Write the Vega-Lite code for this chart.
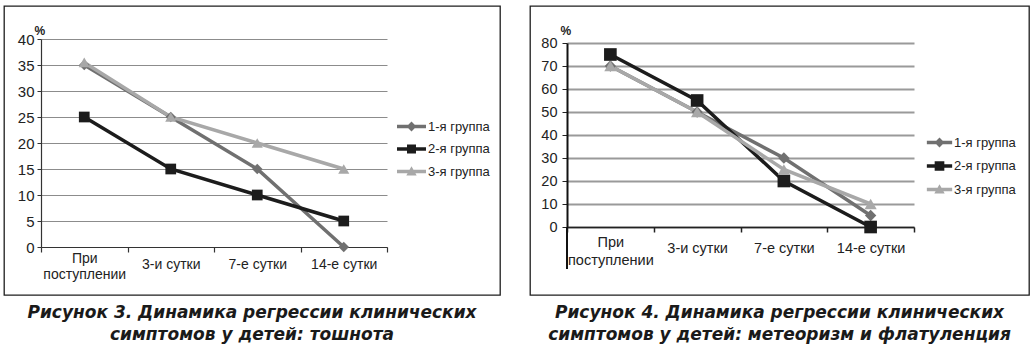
{
  "$schema": "https://vega.github.io/schema/vega-lite/v6.json",
  "background": "white",
  "padding": {"left": 3, "top": 5, "right": 0, "bottom": 0},
  "autosize": {"type": "pad"},
  "bounds": "flush",
  "spacing": 30,
  "datasets": {
    "fig3": [
      {"period": "При поступлении", "group": "1-я группа", "value": 35},
      {"period": "3-и сутки", "group": "1-я группа", "value": 25},
      {"period": "7-е сутки", "group": "1-я группа", "value": 15},
      {"period": "14-е сутки", "group": "1-я группа", "value": 0},
      {"period": "При поступлении", "group": "2-я группа", "value": 25},
      {"period": "3-и сутки", "group": "2-я группа", "value": 15},
      {"period": "7-е сутки", "group": "2-я группа", "value": 10},
      {"period": "14-е сутки", "group": "2-я группа", "value": 5},
      {"period": "При поступлении", "group": "3-я группа", "value": 35.5},
      {"period": "3-и сутки", "group": "3-я группа", "value": 25},
      {"period": "7-е сутки", "group": "3-я группа", "value": 20},
      {"period": "14-е сутки", "group": "3-я группа", "value": 15}
    ],
    "fig4": [
      {"period": "При поступлении", "group": "1-я группа", "value": 70},
      {"period": "3-и сутки", "group": "1-я группа", "value": 50},
      {"period": "7-е сутки", "group": "1-я группа", "value": 30},
      {"period": "14-е сутки", "group": "1-я группа", "value": 5},
      {"period": "При поступлении", "group": "2-я группа", "value": 75},
      {"period": "3-и сутки", "group": "2-я группа", "value": 55},
      {"period": "7-е сутки", "group": "2-я группа", "value": 20},
      {"period": "14-е сутки", "group": "2-я группа", "value": 0},
      {"period": "При поступлении", "group": "3-я группа", "value": 70},
      {"period": "3-и сутки", "group": "3-я группа", "value": 50},
      {"period": "7-е сутки", "group": "3-я группа", "value": 25},
      {"period": "14-е сутки", "group": "3-я группа", "value": 10}
    ]
  },
  "config": {
    "view": {"stroke": "#1e1e1e", "strokeWidth": 1.3},
    "font": "Liberation Sans",
    "axis": {"labelFont": "Liberation Sans", "titleFont": "Liberation Sans", "labelColor": "#222222", "titleColor": "#222222"},
    "legend": {"labelFont": "Liberation Sans"}
  },
  "resolve": {
    "scale": {"color": "independent"},
    "legend": {"color": "independent"}
  },
  "hconcat": [
    {
      "width": 496,
      "height": 289,
      "data": {"name": "fig3"},
      "title": {
        "text": ["Рисунок 3. Динамика регрессии клинических", "симптомов у детей: тошнота"],
        "orient": "bottom", "anchor": "middle", "frame": "group",
        "font": "DejaVu Sans", "fontSize": 17, "fontWeight": "bold", "fontStyle": "italic",
        "lineHeight": 22, "offset": 10, "baseline": "top", "color": "#1a1a1a"
      },
      "encoding": {
        "x": {
          "field": "period", "type": "nominal",
          "sort": ["При поступлении", "3-и сутки", "7-е сутки", "14-е сутки"],
          "scale": {"type": "band", "range": [37, 383], "paddingInner": 0, "paddingOuter": 0},
          "axis": {
            "orient": "bottom", "offset": -48, "tickBand": "extent", "grid": false,
            "domainColor": "#333333", "domainWidth": 1.2, "tickColor": "#333333", "tickSize": 5, "tickWidth": 1.2,
            "labelAngle": 0, "labelFontSize": 14, "labelBaseline": "middle",
            "labelPadding": {"condition": {"test": "datum.value === 'При поступлении'", "value": 6}, "value": 12},
            "labelLineHeight": 16, "labelOverlap": false, "labelFlush": false,
            "labelExpr": "datum.value === 'При поступлении' ? ['При', 'поступлении'] : datum.value",
            "title": null
          }
        },
        "y": {
          "field": "value", "type": "quantitative",
          "scale": {"domain": [0, 40], "range": [241, 33], "nice": false, "zero": true},
          "axis": {
            "orient": "left", "offset": -37, "values": [0, 5, 10, 15, 20, 25, 30, 35, 40],
            "grid": true, "gridColor": "#8c8c8c", "gridWidth": 1,
            "domainColor": "#333333", "domainWidth": 1.2, "tickColor": "#333333", "tickSize": 4,
            "labelPadding": 3, "labelFontSize": 15,
            "title": "%", "titleAngle": 0, "titleAlign": "left", "titleBaseline": "alphabetic",
            "titleX": -7, "titleY": 28, "titleFontSize": 12, "titleFontWeight": "bold"
          }
        },
        "color": {
          "field": "group", "type": "nominal",
          "scale": {"domain": ["1-я группа", "2-я группа", "3-я группа"], "range": ["#707070", "#1c1c1c", "#a8a8a8"]},
          "legend": {
            "orient": "none", "legendX": 396, "legendY": 109, "title": null,
            "symbolSize": 529, "labelFontSize": 13, "labelOffset": 5, "rowPadding": 3.5, "padding": 0,
            "labelColor": "#222222", "symbolType": "square",
            "encode": {"symbols": {"update": {
              "shape": {"signal": "datum.value === '1-я группа' ? 'M-1.26,-0.15L1.26,-0.15L1.26,0.15L-1.26,0.15Z M0,-0.43L0.43,0L0,0.43L-0.43,0Z' : datum.value === '2-я группа' ? 'M-1.26,-0.15L1.26,-0.15L1.26,0.15L-1.26,0.15Z M-0.39,-0.39L0.39,-0.39L0.39,0.39L-0.39,0.39Z' : 'M-1.26,-0.15L1.26,-0.15L1.26,0.15L-1.26,0.15Z M0,-0.45L0.45,0.35L-0.45,0.35Z'"},
              "fill": {"signal": "datum.value === '1-я группа' ? '#707070' : datum.value === '2-я группа' ? '#1c1c1c' : '#a8a8a8'"},
              "stroke": {"value": "transparent"},
              "strokeWidth": {"value": 0},
              "opacity": {"value": 1}
            }}}
          }
        }
      },
      "layer": [
        {"mark": {"type": "line", "strokeWidth": 3.5}},
        {"transform": [{"filter": "datum.group === '1-я группа'"}], "mark": {"type": "point", "filled": true, "opacity": 1, "size": 110, "shape": "diamond"}},
        {"transform": [{"filter": "datum.group === '2-я группа'"}], "mark": {"type": "point", "filled": true, "opacity": 1, "size": 115, "shape": "square"}},
        {"transform": [{"filter": "datum.group === '3-я группа'"}], "mark": {"type": "point", "filled": true, "opacity": 1, "size": 125, "shape": "triangle-up"}}
      ]
    },
    {
      "width": 499,
      "height": 289,
      "data": {"name": "fig4"},
      "title": {
        "text": ["Рисунок 4. Динамика регрессии клинических", "симптомов у детей: метеоризм и флатуленция"],
        "orient": "bottom", "anchor": "middle", "frame": "group",
        "font": "DejaVu Sans", "fontSize": 17, "fontWeight": "bold", "fontStyle": "italic",
        "lineHeight": 22, "offset": 10, "baseline": "top", "color": "#1a1a1a"
      },
      "encoding": {
        "x": {
          "field": "period", "type": "nominal",
          "sort": ["При поступлении", "3-и сутки", "7-е сутки", "14-е сутки"],
          "scale": {"type": "band", "range": [37, 384], "paddingInner": 0, "paddingOuter": 0},
          "axis": {
            "orient": "bottom", "offset": -68, "tickBand": "extent", "grid": false,
            "domainColor": "#222222", "domainWidth": 1.5, "tickColor": "#222222", "tickSize": 5, "tickWidth": 1.5,
            "labelAngle": 0, "labelFontSize": 14.5, "labelBaseline": "middle",
            "labelPadding": {"condition": {"test": "datum.value === 'При поступлении'", "value": 10}, "value": 16},
            "labelLineHeight": 18, "labelOverlap": false, "labelFlush": false,
            "labelExpr": "datum.value === 'При поступлении' ? ['При', 'поступлении'] : datum.value",
            "title": null
          }
        },
        "y": {
          "field": "value", "type": "quantitative",
          "scale": {"domain": [0, 80], "range": [221, 37], "nice": false, "zero": true},
          "axis": {
            "orient": "left", "offset": -37, "values": [0, 10, 20, 30, 40, 50, 60, 70, 80],
            "grid": true, "gridColor": "#9a9a9a", "gridWidth": 2,
            "domainColor": "#111111", "domainWidth": 2, "tickColor": "#222222", "tickSize": 5,
            "labelPadding": 5, "labelFontSize": 14.5,
            "title": "%", "titleAngle": 0, "titleAlign": "left", "titleBaseline": "alphabetic",
            "titleX": -7, "titleY": 28, "titleFontSize": 12, "titleFontWeight": "bold"
          }
        }
      },
      "layer": [
        {
          "mark": {"type": "rule", "strokeWidth": 2},
          "encoding": {
            "x": {"datum": "При поступлении", "type": "nominal", "bandPosition": 0},
            "y": {"datum": 0, "type": "quantitative"},
            "y2": {"datum": -18},
            "color": {"value": "#111111"}
          }
        },
        {
          "encoding": {
            "color": {
              "field": "group", "type": "nominal",
              "scale": {"domain": ["1-я группа", "2-я группа", "3-я группа"], "range": ["#707070", "#1c1c1c", "#a8a8a8"]},
              "legend": {
                "orient": "none", "legendX": 398, "legendY": 125, "title": null,
                "symbolSize": 529, "labelFontSize": 13, "labelOffset": 3, "rowPadding": 4.5, "padding": 0,
                "labelColor": "#222222", "symbolType": "square",
                "encode": {"symbols": {"update": {
                  "shape": {"signal": "datum.value === '1-я группа' ? 'M-1.1,-0.15L1.1,-0.15L1.1,0.15L-1.1,0.15Z M0,-0.43L0.43,0L0,0.43L-0.43,0Z' : datum.value === '2-я группа' ? 'M-1.1,-0.15L1.1,-0.15L1.1,0.15L-1.1,0.15Z M-0.42,-0.42L0.42,-0.42L0.42,0.42L-0.42,0.42Z' : 'M-1.1,-0.15L1.1,-0.15L1.1,0.15L-1.1,0.15Z M0,-0.45L0.45,0.35L-0.45,0.35Z'"},
                  "fill": {"signal": "datum.value === '1-я группа' ? '#707070' : datum.value === '2-я группа' ? '#1c1c1c' : '#a8a8a8'"},
                  "stroke": {"value": "transparent"},
                  "strokeWidth": {"value": 0},
                  "opacity": {"value": 1}
                }}}
              }
            }
          },
          "layer": [
            {"mark": {"type": "line", "strokeWidth": 3.5}},
            {"transform": [{"filter": "datum.group === '1-я группа'"}], "mark": {"type": "point", "filled": true, "opacity": 1, "size": 130, "shape": "diamond"}},
            {"transform": [{"filter": "datum.group === '2-я группа'"}], "mark": {"type": "point", "filled": true, "opacity": 1, "size": 160, "shape": "square"}},
            {"transform": [{"filter": "datum.group === '3-я группа'"}], "mark": {"type": "point", "filled": true, "opacity": 1, "size": 150, "shape": "triangle-up"}}
          ]
        }
      ]
    }
  ]
}
